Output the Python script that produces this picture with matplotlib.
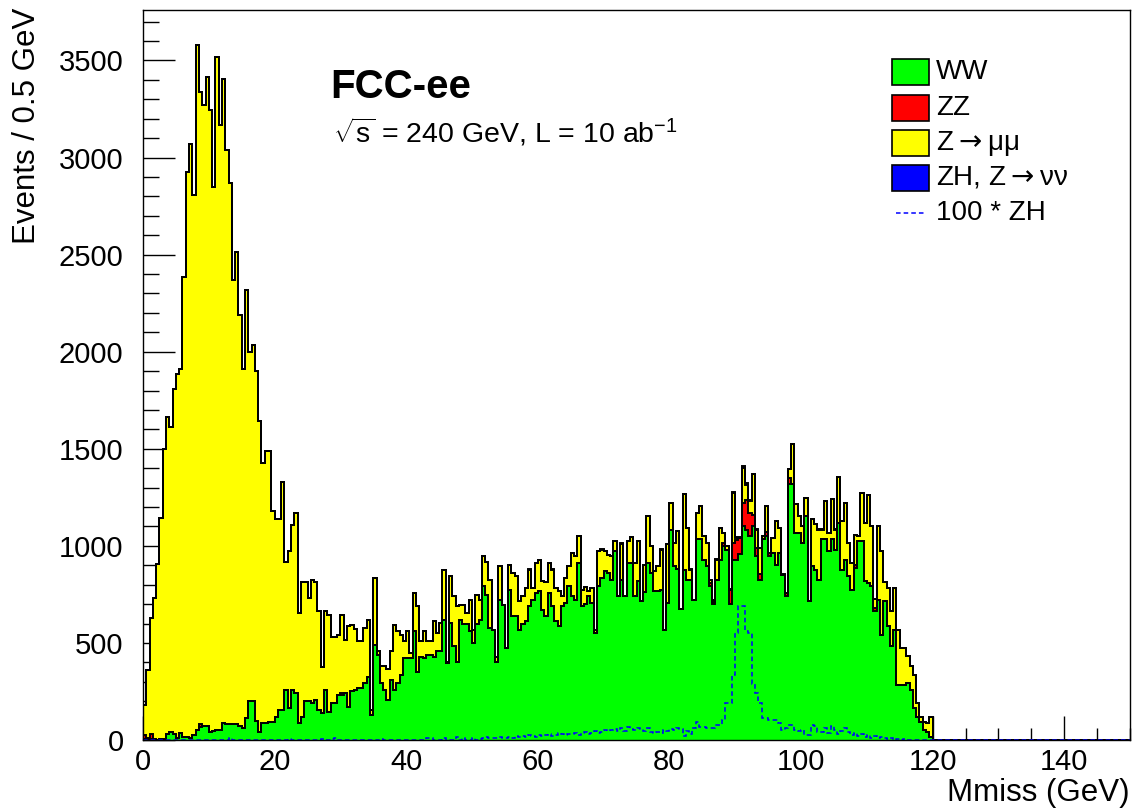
import numpy as np
import matplotlib
matplotlib.use("Agg")
import matplotlib.pyplot as plt
from matplotlib.patches import Rectangle
from matplotlib.lines import Line2D
from matplotlib.ticker import MultipleLocator

plt.rcParams['font.family'] = ['Liberation Sans', 'DejaVu Sans']
plt.rcParams['mathtext.fontset'] = 'custom'
plt.rcParams['mathtext.rm'] = 'Liberation Sans'
plt.rcParams['mathtext.it'] = 'Liberation Sans'

# ---------------- data (Events / 0.5 GeV, bins from 0 to 120 GeV) ----------------
bin_width = 0.5
x_range = (0.0, 150.0)

ww = [3, 3, 5, 3, 2, 3, 3, 30, 40, 30, 10, 35, 15, 15, 8, 25, 50, 65, 70, 70,
      43, 45, 50, 52, 90, 80, 80, 80, 80, 70, 64, 115, 200, 200, 100, 40, 90, 90, 95, 95,
      117, 155, 155, 258, 163, 255, 241, 86, 120, 203, 203, 189, 206, 155, 138, 255, 146, 189, 189, 232,
      232, 241, 172, 250, 255, 267, 267, 293, 327, 130, 490, 439, 293, 258, 207, 310, 258, 293, 336, 422,
      422, 422, 559, 348, 430, 422, 439, 439, 430, 456, 456, 620, 396, 602, 482, 404, 620, 600, 600, 560,
      500, 600, 620, 792, 749, 577, 568, 400, 723, 697, 473, 774, 637, 637, 568, 600, 611, 688, 723, 757,
      766, 671, 637, 757, 688, 611, 585, 688, 705, 792, 740, 723, 912, 688, 700, 740, 705, 550, 792, 835,
      869, 860, 826, 972, 740, 826, 740, 912, 912, 740, 817, 714, 760, 912, 860, 766, 766, 774, 568, 705,
      1084, 895, 880, 675, 878, 826, 826, 723, 1033, 1033, 929, 895, 792, 700, 826, 929, 998, 981, 700, 929,
      929, 960, 1101, 1084, 1050, 1101, 947, 826, 1033, 1050, 947, 964, 903, 964, 852, 740, 1317, 1317, 1067, 1067,
      1015, 1153, 714, 895, 878, 826, 1033, 1033, 972, 1033, 981, 1119, 878, 929, 843, 774, 886, 1024, 1024, 817,
      809, 792, 663, 723, 542, 714, 585, 482, 568, 284, 284, 284, 292, 258, 163, 120, 95, 52, 43, 17]

zz = [25, 5, 25, 0, 0, 0, 0, 0, 0, 0, 0, 0, 0, 0, 0, 0, 0, 15, 0, 0,
      0, 0, 0, 0, 0, 0, 0, 0, 0, 0, 0, 0, 0, 0, 0, 0, 0, 0, 0, 0,
      0, 0, 0, 0, 0, 0, 0, 0, 0, 0, 0, 0, 0, 0, 0, 0, 0, 0, 0, 0,
      10, 0, 0, 0, 0, 0, 0, 0, 0, 0, 0, 0, 0, 0, 0, 0, 0, 0, 0, 0,
      0, 0, 0, 0, 0, 0, 0, 0, 0, 0, 0, 0, 0, 0, 0, 0, 0, 0, 0, 0,
      0, 0, 0, 0, 0, 0, 0, 0, 0, 0, 0, 0, 0, 0, 0, 0, 0, 0, 0, 0,
      0, 0, 0, 0, 0, 0, 0, 0, 0, 0, 0, 0, 0, 0, 0, 0, 0, 0, 0, 0,
      0, 0, 0, 0, 0, 0, 0, 0, 0, 0, 0, 0, 0, 0, 0, 0, 0, 0, 0, 0,
      0, 0, 0, 0, 0, 0, 0, 0, 0, 0, 0, 0, 15, 10, 0, 0, 15, 0, 74, 86,
      100, 80, 120, 150, 120, 60, 40, 30, 0, 20, 15, 0, 0, 0, 0, 15, 30, 0, 0, 0,
      0, 0, 0, 0, 0, 0, 0, 0, 0, 0, 0, 0, 0, 0, 0, 0, 17, 0, 0, 0,
      0, 0, 17, 0, 0, 0, 0, 0, 0, 0, 0, 0, 0, 0, 0, 0, 0, 0, 0, 0]

zmumu = [153, 354, 599, 730, 903, 1143, 1497, 1634, 1572, 1779, 1873, 1877, 2368, 2911, 3064, 2784, 3531, 3256, 3201, 3344,
         3202, 2803, 3467, 3115, 3315, 2961, 2789, 2289, 2432, 2120, 1848, 2202, 1800, 1833, 1800, 1603, 1338, 1399, 1394, 1084,
         1022, 984, 1175, 657, 809, 852, 929, 568, 694, 611, 528, 637, 606, 508, 237, 408, 499, 344, 344, 310,
         403, 275, 413, 344, 316, 241, 241, 283, 293, 25, 345, 17, 86, 121, 158, 146, 336, 266, 206, 86,
         137, 25, 198, 340, 78, 137, 69, 69, 181, 95, 146, 258, 8, 245, 258, 284, 77, 97, 54, 163,
         68, 149, 103, 158, 168, 249, 0, 30, 172, 0, 0, 129, 223, 206, 146, 140, 172, 190, 60, 155,
         163, 146, 175, 155, 190, 172, 181, 52, 130, 103, 224, 224, 138, 86, 90, 26, 78, 18, 180, 146,
         103, 95, 121, 52, 0, 186, 0, 112, 134, 172, 207, 0, 140, 241, 138, 103, 129, 207, 0, 302,
         138, 120, 196, 0, 387, 267, 52, 0, 137, 172, 121, 120, 19, 13, 103, 164, 54, 17, 0, 258,
         12, 1, 181, 82, 60, 207, 97, 133, 17, 135, 2, 77, 224, 129, 0, 2, 47, 206, 146, 86,
         86, 95, 0, 241, 232, 258, 51, 197, 95, 206, 103, 237, 249, 293, 172, 138, 155, 26, 249, 302,
         451, 309, 46, 378, 430, 98, 198, 181, 215, 284, 189, 189, 142, 121, 173, 69, 25, 43, 46, 103]

# ZH signal (drawn as 100 * ZH)
zh_x100 = [0, 0, 0, 0, 0, 0, 0, 0, 0, 0, 0, 0, 0, 0, 0, 0, 0, 0, 0, 0,
           0, 0, 0, 0, 0, 0, 8, 0, 0, 0, 0, 0, 0, 0, 0, 0, 0, 0, 0, 0,
           0, 0, 0, 0, 5, 0, 0, 0, 0, 0, 0, 0, 0, 0, 6, 0, 0, 5, 8, 0,
           0, 0, 0, 0, 0, 0, 0, 0, 0, 0, 0, 0, 6, 0, 0, 0, 0, 0, 0, 0,
           0, 0, 0, 0, 0, 0, 10, 12, 0, 0, 0, 10, 0, 0, 0, 15, 0, 10, 0, 0,
           8, 0, 5, 12, 15, 10, 12, 8, 15, 10, 12, 18, 10, 20, 15, 22, 18, 25, 20, 15,
           25, 20, 28, 30, 22, 25, 35, 30, 28, 32, 30, 35, 25, 38, 40, 32, 35, 45, 38, 42,
           50, 45, 52, 55, 48, 60, 45, 69, 58, 50, 62, 55, 48, 60, 40, 34, 43, 38, 52, 48,
           55, 52, 60, 55, 20, 45, 30, 60, 95, 69, 65, 60, 60, 60, 77, 77, 103, 190, 190, 336,
           550, 688, 688, 560, 550, 290, 240, 190, 112, 112, 103, 103, 103, 90, 52, 60, 77, 77, 52, 45,
           52, 26, 26, 77, 70, 43, 43, 60, 35, 70, 50, 30, 45, 60, 40, 25, 35, 20, 30, 15,
           25, 10, 20, 8, 15, 10, 5, 10, 0, 5, 0, 3, 0, 0, 0, 0, 0, 0, 0, 0]

labels = ["WW", "ZZ", r"Z$\rightarrow$μμ", r"ZH, Z$\rightarrow$νν", "100 * ZH"]
colors = ["#00ff00", "#ff0000", "#ffff00", "#0000ff"]

# ---------------- build histograms ----------------
edges = np.arange(x_range[0], x_range[1] + bin_width / 2, bin_width)
nb = len(edges) - 1

def padded(a):
    out = np.zeros(nb)
    out[:len(a)] = a
    return out

h_ww = padded(ww)
h_zz = padded(zz)
h_zmm = padded(zmumu)
h_zh100 = padded(zh_x100)
h_zh = h_zh100 / 100.0

stack = np.cumsum(np.vstack([h_ww, h_zz, h_zmm, h_zh]), axis=0)

W, H = 1132, 810
fig = plt.figure(figsize=(W / 100, H / 100), dpi=100)
ax = fig.add_axes([143 / W, 1 - 740 / H, (1130 - 143) / W, 730 / H])

for k in range(stack.shape[0] - 1, -1, -1):
    ax.stairs(stack[k], edges, baseline=0, fill=True, color=colors[k], lw=0, zorder=2)
    ax.stairs(stack[k], edges, baseline=0, fill=False, color="black", lw=1.4, zorder=3)

ax.stairs(h_zh100, edges, baseline=None, color="#0000ff", lw=1.1,
          linestyle=(0, (3, 2)), zorder=4)

ax.set_xlim(*x_range)
ax.set_ylim(0, 3760)

ax.xaxis.set_major_locator(MultipleLocator(20))
ax.xaxis.set_minor_locator(MultipleLocator(5))
ax.yaxis.set_major_locator(MultipleLocator(500))
ax.yaxis.set_minor_locator(MultipleLocator(100))
ax.tick_params(axis="both", which="both", direction="in", top=False, right=False, width=1)
ax.tick_params(axis="x", which="major", length=17, labelsize=21, pad=6)
ax.tick_params(axis="x", which="minor", length=8.5)
ax.tick_params(axis="y", which="major", length=23, labelsize=21, pad=14)
ax.tick_params(axis="y", which="minor", length=11.5)
for sp in ax.spines.values():
    sp.set_linewidth(1.0)
    sp.set_zorder(5)

fig.text(1130 / W, 1 - 793 / H, "Mmiss (GeV)", ha="right", va="center", fontsize=22.5)
fig.text(27 / W, 1 - 8 / H, "Events / 0.5 GeV", rotation=90, ha="center", va="top", fontsize=22.5)

fig.text(330 / W, 1 - 87 / H, "FCC-ee", fontsize=29, fontweight="bold", ha="left", va="center")
fig.text(333 / W, 1 - 132 / H, r"$\sqrt{s}$ = 240 GeV, L = 10 ab$^{-1}$", fontsize=20.5,
         ha="left", va="center")

# ---------------- legend ----------------
row_y = [72, 108, 143, 178, 213]
for i in range(4):
    yc = row_y[i]
    fig.patches.append(Rectangle((892 / W, 1 - (yc + 12.5) / H), 37 / W, 25 / H,
                                 transform=fig.transFigure, facecolor=colors[i],
                                 edgecolor="black", lw=1.2))
    fig.text(936 / W, 1 - yc / H, labels[i], fontsize=20, ha="left", va="center",
             math_fontfamily="dejavusans")
fig.lines.append(Line2D([896 / W, 924 / W], [1 - row_y[4] / H] * 2, transform=fig.transFigure,
                        color="#0000ff", lw=1.1, linestyle=(0, (3, 2))))
fig.text(936 / W, 1 - row_y[4] / H, labels[4], fontsize=20, ha="left", va="center")

fig.savefig("out.png", dpi=100)
